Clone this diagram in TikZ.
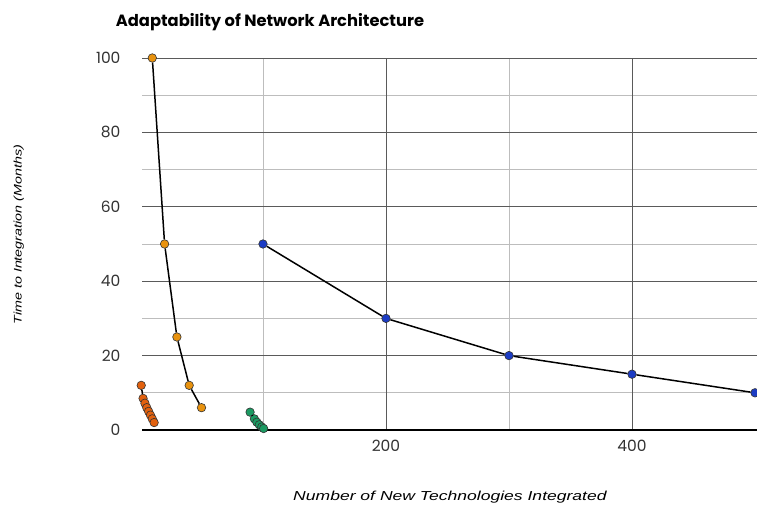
\documentclass[tikz,border=0pt]{standalone}
\usepackage{fontspec}
\setmainfont{Poppins}
\newfontfamily\labelfont{Liberation Sans}
\definecolor{gridmajor}{HTML}{5A5A5A}
\definecolor{gridminor}{HTML}{BDBDBD}
\definecolor{ptorange}{HTML}{E8920E}
\definecolor{ptred}{HTML}{E2610F}
\definecolor{ptgreen}{HTML}{1B9A62}
\definecolor{ptblue}{HTML}{1C3CC4}
\tikzset{
    pt/.style={circle, draw=black!80, line width=0.6pt, inner sep=0pt, minimum size=8.5pt},
    series/.style={line width=1.5pt, black},
    ticklabel/.style={font=\fontsize{15.5}{15.5}\selectfont, text=black!80}
}
\begin{document}
\begin{tikzpicture}[x=1.23pt,y=3.72pt]
        \useasboundingbox (-113.82,-21.77) rectangle (501.63,115.59);

        % grid
        \draw[gridminor, line width=0.8pt] (2,10) -- (502,10);
        \draw[gridminor, line width=0.8pt] (2,30) -- (502,30);
        \draw[gridminor, line width=0.8pt] (2,50) -- (502,50);
        \draw[gridminor, line width=0.8pt] (2,70) -- (502,70);
        \draw[gridminor, line width=0.8pt] (2,90) -- (502,90);
        \draw[gridminor, line width=0.8pt] (100,0) -- (100,100);
        \draw[gridminor, line width=0.8pt] (300,0) -- (300,100);
        \draw[gridmajor, line width=0.8pt] (200,0) -- (200,100);
        \draw[gridmajor, line width=0.8pt] (400,0) -- (400,100);
        \draw[gridmajor, line width=0.8pt] (2,20) -- (502,20);
        \draw[gridmajor, line width=0.8pt] (2,40) -- (502,40);
        \draw[gridmajor, line width=0.8pt] (2,60) -- (502,60);
        \draw[gridmajor, line width=0.8pt] (2,80) -- (502,80);
        \draw[gridmajor, line width=0.8pt] (2,100) -- (502,100);
        \draw[black, line width=1.2pt] (2,0) -- (502,0);

        % tick labels
        \node[ticklabel, anchor=east] at (-13,100) {100};
        \node[ticklabel, anchor=east] at (-13,80) {80};
        \node[ticklabel, anchor=east] at (-13,60) {60};
        \node[ticklabel, anchor=east] at (-13,40) {40};
        \node[ticklabel, anchor=east] at (-13,20) {20};
        \node[ticklabel, anchor=east] at (-13,0) {0};
        \node[ticklabel] at (200,-4.3) {200};
        \node[ticklabel] at (400,-4.3) {400};

        % titles
        \node[anchor=west, font=\fontsize{16.3}{16.3}\selectfont\bfseries] at (-22.5,109.7) {Adaptability of Network Architecture};
        \node[xscale=1.35, font=\labelfont\itshape\fontsize{13}{13}\selectfont] at (252,-18) {Number of New Technologies Integrated};
        \node[rotate=90, xscale=1.3, font=\labelfont\itshape\fontsize{11}{11}\selectfont] at (-98.5,52.5) {Time to Integration (Months)};

        % blue series
        \node[pt, fill=ptblue] (b1) at (100,50) {};
        \node[pt, fill=ptblue] (b2) at (200,30) {};
        \node[pt, fill=ptblue] (b3) at (300,20) {};
        \node[pt, fill=ptblue] (b4) at (400,15) {};
        \node[pt, fill=ptblue] (b5) at (500,10) {};
        \draw[series] (b1) -- (b2) -- (b3) -- (b4) -- (b5);

        % orange series
        \node[pt, fill=ptorange] (o1) at (10,100) {};
        \node[pt, fill=ptorange] (o2) at (20,50) {};
        \node[pt, fill=ptorange] (o3) at (30,25) {};
        \node[pt, fill=ptorange] (o4) at (40,12) {};
        \node[pt, fill=ptorange] (o5) at (50,6) {};
        \draw[series] (o1) -- (o2) -- (o3) -- (o4) -- (o5);

        % red series
        \node[pt, fill=ptred] (r1) at (1,12) {};
        \node[pt, fill=ptred] (r2) at (2.5,8.5) {};
        \node[pt, fill=ptred] (r3) at (4,7.2) {};
        \node[pt, fill=ptred] (r4) at (5.5,6) {};
        \node[pt, fill=ptred] (r5) at (7,5) {};
        \node[pt, fill=ptred] (r6) at (8.5,4) {};
        \node[pt, fill=ptred] (r7) at (10,3) {};
        \node[pt, fill=ptred] (r8) at (11.5,2) {};
        \draw[series] (r1) -- (r2);

        % green series
        \node[pt, fill=ptgreen] (g1) at (89.5,4.8) {};
        \node[pt, fill=ptgreen] (g2) at (93,3) {};
        \node[pt, fill=ptgreen] (g3) at (95,2.1) {};
        \node[pt, fill=ptgreen] (g4) at (97,1.4) {};
        \node[pt, fill=ptgreen] (g5) at (99,0.8) {};
        \node[pt, fill=ptgreen] (g6) at (100.5,0.4) {};
        \draw[series] (g1) -- (g2);
\end{tikzpicture}
\end{document}
